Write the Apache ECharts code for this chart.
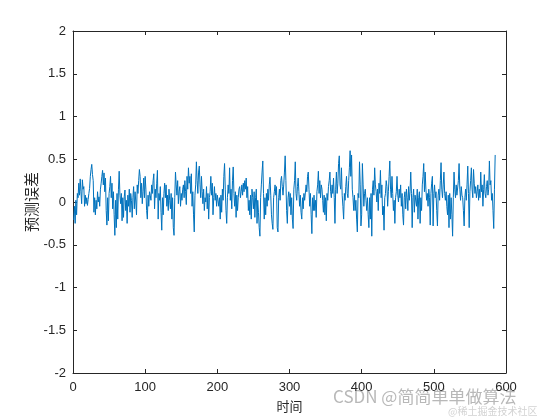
<!DOCTYPE html>
<html><head><meta charset="utf-8">
<script src="https://cdn.jsdelivr.net/npm/echarts@6/dist/echarts.min.js"></script>
<style>html,body{margin:0;padding:0;background:#fff}#c{width:560px;height:420px}</style>
</head><body><div id="c"></div>
<script>
const xTicks = [0, 100, 200, 300, 400, 500, 600];
const yTicks = [-2, -1.5, -1, -0.5, 0, 0.5, 1, 1.5, 2];
const xName = '时间';
const yName = '预测误差';
const errors = [
-0.21,-0.05,-0.25,0.02,-0.15,0.10,0.05,0.22,0.08,0.27,
0.12,-0.02,0.26,0.15,0.18,-0.05,0.08,-0.02,0.05,-0.04,
0.03,0.10,0.16,0.30,0.38,0.44,0.32,0.25,-0.12,0.05,
-0.15,0.02,-0.08,0.12,0.00,0.06,-0.05,0.15,0.22,0.30,
0.37,0.20,0.34,0.12,0.28,-0.10,-0.27,0.05,-0.22,0.10,
0.18,0.30,0.05,0.22,-0.08,0.12,-0.15,-0.39,0.02,-0.30,
0.10,-0.20,0.15,0.36,0.08,-0.02,0.10,-0.22,0.05,-0.18,
0.06,0.14,-0.10,0.02,-0.25,0.08,-0.05,0.15,-0.12,0.10,
0.02,-0.18,0.05,0.18,-0.08,0.12,0.00,-0.15,0.20,0.10,
0.25,0.38,0.30,0.05,0.22,-0.02,0.12,0.28,0.05,0.30,
0.15,-0.10,-0.20,0.08,-0.05,0.12,0.08,0.02,0.20,0.10,
0.25,0.33,-0.08,0.15,0.05,0.22,0.37,-0.20,0.10,0.02,
0.18,-0.12,-0.33,0.05,-0.15,0.10,0.22,0.05,0.20,-0.05,
0.08,-0.10,0.15,0.02,-0.08,0.10,-0.20,0.05,-0.30,-0.39,
0.05,0.35,0.20,0.08,0.25,-0.02,0.12,0.18,-0.05,0.10,
0.02,0.15,0.20,0.05,0.25,0.12,-0.03,0.30,0.15,0.40,
0.22,0.30,0.10,0.33,-0.05,0.12,-0.15,-0.35,0.08,0.20,
0.47,0.25,0.10,0.35,0.42,0.20,0.05,0.30,0.12,-0.02,
0.15,-0.10,0.05,0.00,0.18,-0.08,0.10,-0.20,0.05,0.12,
0.30,0.08,0.22,-0.15,0.05,0.18,0.02,0.10,-0.05,0.08,
0.10,-0.05,0.05,-0.20,0.08,-0.12,0.15,0.02,0.30,0.45,
0.15,-0.10,-0.25,0.05,0.20,0.10,0.40,0.02,0.15,-0.08,
0.25,0.41,0.10,-0.05,0.12,-0.18,0.08,-0.10,0.05,0.15,
0.18,0.05,0.12,0.20,0.08,0.22,0.12,0.25,0.15,0.28,
0.05,0.18,-0.10,0.02,-0.15,0.08,-0.20,0.15,0.05,-0.08,
0.12,-0.18,0.05,0.15,-0.25,0.02,-0.12,-0.30,-0.40,0.05,
0.20,0.35,0.48,0.10,-0.20,0.05,-0.15,0.10,-0.05,0.15,
0.02,0.20,0.29,0.08,-0.15,-0.25,-0.32,0.05,0.12,0.20,
0.08,0.18,-0.30,-0.35,0.05,0.15,0.02,0.25,0.30,0.18,
0.08,0.20,0.35,0.54,0.25,-0.10,-0.25,0.05,0.12,-0.05,
0.10,-0.15,0.05,-0.20,-0.31,0.15,0.25,0.47,0.10,0.02,
0.18,0.28,0.12,-0.05,0.08,-0.12,-0.20,0.05,-0.08,0.10,
0.02,0.00,0.20,0.12,0.30,0.35,0.15,-0.05,0.10,-0.15,
-0.37,0.05,-0.10,0.08,-0.10,0.02,-0.18,0.12,0.20,0.36,
0.10,0.25,0.05,0.20,0.15,0.02,-0.12,0.08,-0.15,0.05,
-0.22,0.10,0.02,0.18,0.25,0.35,0.12,0.05,0.20,0.10,
0.28,0.05,-0.25,0.15,0.35,0.10,0.22,0.45,0.54,0.20,
0.15,0.40,0.08,-0.05,-0.20,0.10,0.02,0.18,0.30,0.10,
0.05,0.25,0.40,0.60,0.30,0.55,0.15,0.05,-0.10,0.08,
-0.10,0.02,-0.20,-0.35,0.10,0.05,0.47,0.20,-0.28,-0.15,
0.45,0.20,-0.05,0.10,0.15,0.02,-0.10,0.05,-0.15,-0.30,
0.05,-0.20,0.10,-0.40,0.15,0.25,0.08,0.40,0.20,0.12,
0.00,0.15,-0.10,0.22,0.10,0.37,0.05,0.20,-0.15,-0.05,
-0.33,0.05,0.10,0.25,0.18,-0.05,0.12,0.30,0.48,0.15,
0.05,0.30,0.10,-0.10,0.02,-0.25,0.05,0.12,0.30,0.08,
0.00,0.15,0.05,0.20,-0.05,0.10,-0.15,-0.27,0.05,0.12,
-0.08,0.15,0.05,-0.10,0.18,0.02,0.12,0.35,0.10,-0.30,
0.05,0.15,-0.12,0.08,0.10,-0.05,0.15,-0.20,0.05,0.12,
-0.25,0.05,-0.10,0.20,0.30,0.45,0.12,0.35,0.15,0.02,
0.10,-0.05,0.15,0.05,-0.27,0.10,0.22,0.30,-0.28,0.10,
0.20,0.05,0.12,-0.10,-0.28,0.08,0.15,0.02,0.25,0.46,
0.15,0.05,0.20,0.35,0.10,0.02,0.12,-0.05,-0.15,0.08,
-0.30,0.10,-0.20,0.05,-0.15,-0.40,0.05,0.35,0.15,0.05,
0.20,0.08,0.10,0.25,0.45,0.15,0.02,0.18,0.08,0.05,
-0.10,-0.28,0.05,0.15,0.02,0.20,0.42,0.10,-0.30,0.12,
0.25,0.40,0.15,0.05,0.38,0.22,0.10,0.18,0.05,0.12,
0.20,0.02,0.15,0.05,0.35,0.12,0.20,-0.05,0.15,0.32,
0.10,0.05,0.18,0.25,0.08,0.15,0.48,0.20,0.25,0.02,
0.10,-0.10,-0.31,0.15,0.55
];

const seriesData = errors.map((v, i) => [i + 1, v]);
const chart = echarts.init(document.getElementById('c'), null, {renderer: 'canvas'});
const axisCol = '#262626';
const labelFont = {color: axisCol, fontSize: 13, fontFamily: 'Liberation Sans, Arial, sans-serif'};
const baseX = {
  type: 'value', min: xTicks[0], max: xTicks[xTicks.length - 1], interval: 100,
  axisLine: {show: true, onZero: false, lineStyle: {color: axisCol, width: 1}},
  axisTick: {show: true, inside: true, length: 4, lineStyle: {color: axisCol}},
  splitLine: {show: false}
};
const baseY = {
  type: 'value', min: yTicks[0], max: yTicks[yTicks.length - 1], interval: 0.5,
  axisLine: {show: true, onZero: false, lineStyle: {color: axisCol, width: 1}},
  axisTick: {show: true, inside: true, length: 4, lineStyle: {color: axisCol}},
  splitLine: {show: false}
};
chart.setOption({
  animation: false,
  backgroundColor: '#fff',
  grid: {left: 73, right: 54, top: 31, bottom: 47, containLabel: false},
  xAxis: [
    Object.assign({}, baseX, {position: 'bottom',
      axisLabel: Object.assign({margin: 8}, labelFont),
      name: xName, nameLocation: 'middle', nameGap: 27, nameMoveOverlap: false,
      nameTextStyle: {color: axisCol, fontSize: 13, fontFamily: 'Noto Sans CJK SC'}}),
    Object.assign({}, baseX, {position: 'top', axisLabel: {show: false}})
  ],
  yAxis: [
    Object.assign({}, baseY, {position: 'left',
      axisLabel: Object.assign({margin: 7}, labelFont),
      name: yName, nameLocation: 'middle', nameGap: 34, nameRotate: 90, nameMoveOverlap: false,
      nameTextStyle: {color: axisCol, fontSize: 15, fontFamily: 'Noto Sans CJK SC'}}),
    Object.assign({}, baseY, {position: 'right', axisLabel: {show: false}})
  ],
  series: [{
    type: 'line', data: seriesData, xAxisIndex: 0, yAxisIndex: 0,
    showSymbol: false, symbol: 'none',
    lineStyle: {color: '#0072BD', width: 1}
  }],
  graphic: [
    {type: 'text', left: 333, top: 388, silent: true,
     style: {text: 'CSDN @简简单单做算法', fill: 'rgba(160,160,160,0.75)', fontSize: 17, fontFamily: 'Noto Sans CJK SC'}},
    {type: 'text', left: 448, top: 406, silent: true,
     style: {text: '@稀土掘金技术社区', fill: 'rgba(180,180,180,0.6)', fontSize: 10, fontFamily: 'Noto Sans CJK SC'}}
  ]
});
</script></body></html>
